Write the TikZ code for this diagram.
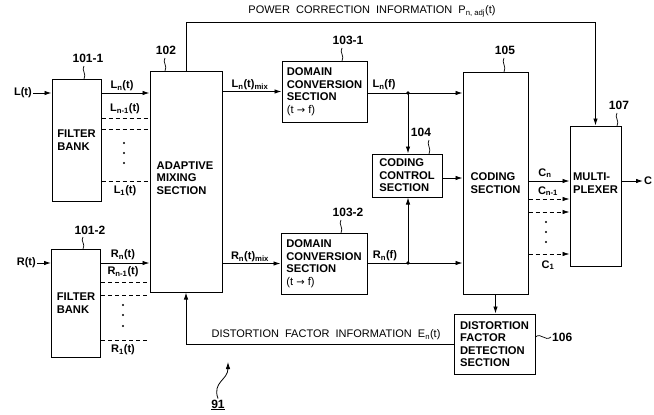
\documentclass[tikz,border=0pt]{standalone}
\usepackage{fontspec}
\setmainfont{Liberation Sans}
\newfontfamily\dejavu{DejaVu Sans}
\usetikzlibrary{arrows.meta}
\tikzset{
 blk/.style={draw, line width=1pt, font=\bfseries\fontsize{11.2}{12.5}\selectfont, align=left, inner sep=0pt},
 btxt/.style={font=\bfseries\fontsize{11.2}{12.5}\selectfont, align=left, inner sep=0pt},
 arr/.style={-{Latex[length=7pt,width=4.5pt]}, line width=0.9pt},
 ln/.style={line width=0.9pt},
 sig/.style={font=\bfseries\fontsize{11}{12}\selectfont, inner sep=1pt},
 refn/.style={font=\bfseries\fontsize{12}{12}\selectfont, inner sep=1pt},
 dsh/.style={dash pattern=on 4pt off 3pt, line width=0.8pt},
 sq/.style={line width=0.7pt},
 info/.style={font=\fontsize{11}{12}\selectfont, inner sep=1pt},
}
\newcommand{\squig}[3]{\draw[sq] (#1,#2) .. controls (#1-3,#2+4) and (#1+3,#3-5) .. (#1,#3);}
\newcommand{\tof}{{\mdseries(t {\dejavu\fontsize{10}{10}\selectfont →} f)}}
\begin{document}
\begin{tikzpicture}[x=1pt,y=-1pt]
\useasboundingbox (0,0) rectangle (654,415);
% blocks
\node[blk, minimum width=49, minimum height=122] (fb1) at (76.5,140) {FILTER\\BANK};
\node[blk, minimum width=49, minimum height=108] (fb2) at (76,303) {FILTER\\BANK};
\node[blk, minimum width=72, minimum height=221] (mix) at (186,181.5) {};
\node[btxt] (mixt) at (185,178) {ADAPTIVE\\MIXING\\SECTION};
\node[blk, minimum width=85, minimum height=61] (dc1) at (324.5,91.5) {DOMAIN\\CONVERSION\\SECTION\\\tof};
\node[blk, minimum width=86, minimum height=61] (dc2) at (324,263.5) {DOMAIN\\CONVERSION\\SECTION\\\tof};
\node[blk, minimum width=70, minimum height=43] (cc) at (407,175.5) {CODING\\CONTROL\\SECTION};
\node[blk, minimum width=65, minimum height=222] (cs) at (495.5,183) {CODING\\SECTION};
\node[blk, minimum width=51, minimum height=140] (mux) at (595.5,196) {};
\node[btxt] (muxt) at (595.5,183) {MULTI-\\PLEXER};
\node[blk, minimum width=81, minimum height=60] (dfd) at (494.5,344) {DISTORTION\\FACTOR\\DETECTION\\SECTION};
% reference numerals
\node[refn] (r1011) at (88,58) {101-1}; \squig{84}{66}{79}
\node[refn] (r1012) at (90,230) {101-2}; \squig{83}{237}{249}
\node[refn] (r102) at (166,50) {102}; \squig{165}{58}{71}
\node[refn] (r1031) at (348,40) {103-1}; \squig{342}{48}{61}
\node[refn] (r1032) at (348,212) {103-2}; \squig{341}{220}{233}
\node[refn] (r104) at (421,132) {104}; \squig{429}{140}{154}
\node[refn] (r105) at (505,50) {105}; \squig{504}{58}{72}
\node[refn] (r107) at (619,105) {107}; \squig{617}{113}{126}
\node[refn, anchor=west] (r106) at (551,337) {106};
\draw[sq] (dfd.east |- 0,337) .. controls (541,332) and (545,342) .. (r106.west);
\node[refn] (r91) at (218,405) {\underline{91}};
\draw[arr, line width=0.8pt] (r91.north) .. controls (212,382) and (228,380) .. (228,362);
% inputs
\node[sig, anchor=east] (Lt) at (33,93) {L(t)};
\draw[arr] (Lt.east) -- (fb1.west |- Lt.east);
\node[sig, anchor=east] (Rt) at (37,263) {R(t)};
\draw[arr] (Rt.east) -- (fb2.west |- Rt.east);
% filter bank 1 outputs
\draw[arr] (fb1.east |- 0,93) -- (mix.west |- 0,93);
\node[sig] (lLn) at (122,86) {L\textsubscript{n}(t)};
\node[sig] (lLn1) at (125,109) {L\textsubscript{n-1}(t)};
\draw[dsh] (fb1.east |- 0,118) -- (mix.west |- 0,118);
\draw[dsh] (fb1.east |- 0,129) -- (mix.west |- 0,129);
\draw[dsh] (fb1.east |- 0,181) -- (mix.west |- 0,181);
\node[sig] (lL1) at (125,191) {L\textsubscript{1}(t)};
\foreach \yy in {143,153,163} \fill (124,\yy) circle (1.2pt);
% filter bank 2 outputs
\draw[arr] (fb2.east |- 0,263) -- (mix.west |- 0,263);
\node[sig] (lRn) at (123,255) {R\textsubscript{n}(t)};
\node[sig] (lRn1) at (123,272) {R\textsubscript{n-1}(t)};
\draw[dsh] (fb2.east |- 0,282) -- (mix.west |- 0,282);
\draw[dsh] (fb2.east |- 0,295) -- (mix.west |- 0,295);
\draw[dsh] (fb2.east |- 0,340) -- (mix.west |- 0,340);
\node[sig] (lR1) at (123,350) {R\textsubscript{1}(t)};
\foreach \yy in {305,315,326} \fill (123,\yy) circle (1.2pt);
% mix to domain conversion
\draw[arr] (mix.east |- dc1.west) -- (dc1.west);
\node[sig] (lLmix) at (250,85) {L\textsubscript{n}(t)\textsubscript{mix}};
\draw[arr] (mix.east |- dc2.west) -- (dc2.west);
\node[sig] (lRmix) at (250,257) {R\textsubscript{n}(t)\textsubscript{mix}};
% domain conversion to coding
\coordinate (j1) at (408,93);
\coordinate (j2) at (408,263);
\draw[arr] (dc1.east |- j1) -- (cs.west |- j1);
\draw[arr] (j1) -- (cc.north -| j1);
\fill (j1) circle (1.8pt);
\node[sig] (lLf) at (384,85) {L\textsubscript{n}(f)};
\draw[arr] (dc2.east |- j2) -- (cs.west |- j2);
\draw[arr] (j2) -- (cc.south -| j2);
\fill (j2) circle (1.8pt);
\node[sig] (lRf) at (385,256) {R\textsubscript{n}(f)};
\draw[arr] (cc.east |- 0,178) -- (cs.west |- 0,178);
% coding to mux
\draw[arr] (cs.east |- 0,181) -- (mux.west |- 0,181);
\node[sig] (lCn) at (545,173) {C\textsubscript{n}};
\draw[dsh, -{Latex[length=7pt,width=4.5pt]}] (cs.east |- 0,199) -- (mux.west |- 0,199);
\node[sig] (lCn1) at (548,191) {C\textsubscript{n-1}};
\draw[dsh, -{Latex[length=7pt,width=4.5pt]}] (cs.east |- 0,212) -- (mux.west |- 0,212);
\foreach \yy in {222,232,242} \fill (546,\yy) circle (1.2pt);
\draw[dsh, -{Latex[length=7pt,width=4.5pt]}] (cs.east |- 0,254) -- (mux.west |- 0,254);
\node[sig] (lC1) at (548,265) {C\textsubscript{1}};
\node[sig, anchor=west] (Cout) at (643,181) {C};
\draw[arr] (mux.east |- Cout.west) -- (Cout.west);
% coding to distortion detection
\draw[arr] (cs.south) -- (dfd.north -| cs.south);
% power correction information
\draw[arr] (mix.north) -- (mix.north |- 0,22) -| (mux.north);
\node[info] (lpow) at (372,11) {POWER\ \ CORRECTION\ \ INFORMATION\ \ P\textsubscript{n, adj}(t)};
% distortion factor information
\draw[arr] (dfd.west) -- (mix.south |- dfd.west) -- (mix.south);
\node[info] (ldist) at (326,335) {DISTORTION\ \ FACTOR\ \ INFORMATION\ \ E\textsubscript{n}(t)};
\end{tikzpicture}
\end{document}
